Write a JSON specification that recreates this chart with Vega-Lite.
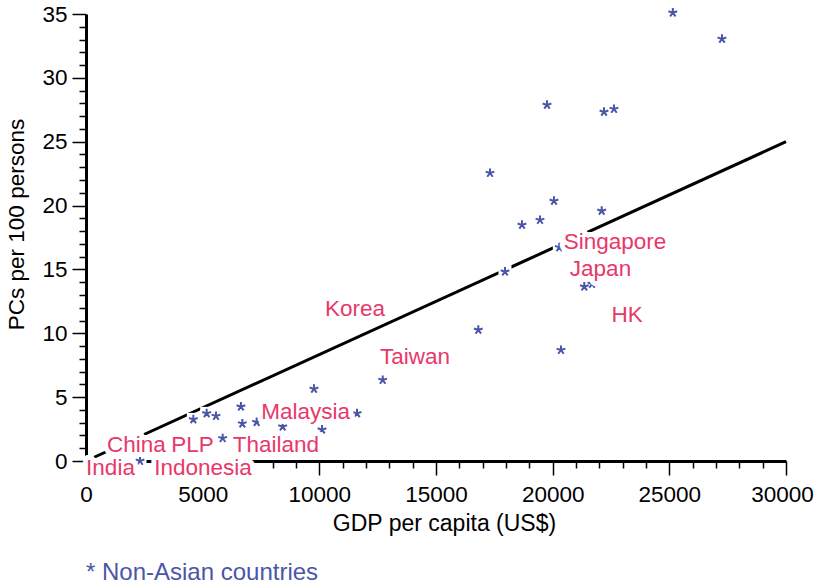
{
  "$schema": "https://vega.github.io/schema/vega-lite/v6.json",
  "width": 700,
  "height": 447,
  "autosize": "none",
  "padding": {"left": 86, "top": 14, "right": 30, "bottom": 123},
  "config": {
    "font": "Liberation Sans",
    "view": {"stroke": null},
    "axis": {"grid": false}
  },
  "title": {
    "text": "* Non-Asian countries",
    "orient": "bottom",
    "anchor": "start",
    "frame": "group",
    "color": "#4b55a8",
    "fontSize": 24,
    "fontWeight": "normal",
    "font": "Liberation Sans",
    "offset": 25
  },
  "datasets": {
    "fit": [
      {"gdp": 0, "pcs": 0},
      {"gdp": 30000, "pcs": 25}
    ],
    "nonAsian": [
      {"gdp": 25150, "pcs": 35.1},
      {"gdp": 27257, "pcs": 33.05},
      {"gdp": 19757, "pcs": 27.88},
      {"gdp": 22200, "pcs": 27.33},
      {"gdp": 22629, "pcs": 27.56},
      {"gdp": 17314, "pcs": 22.55},
      {"gdp": 20057, "pcs": 20.36},
      {"gdp": 18686, "pcs": 18.48},
      {"gdp": 19457, "pcs": 18.87},
      {"gdp": 22101, "pcs": 19.58},
      {"gdp": 20284, "pcs": 16.73},
      {"gdp": 17957, "pcs": 14.82},
      {"gdp": 21356, "pcs": 13.65},
      {"gdp": 21686, "pcs": 13.86},
      {"gdp": 16813, "pcs": 10.26},
      {"gdp": 20357, "pcs": 8.69},
      {"gdp": 12716, "pcs": 6.34},
      {"gdp": 9771, "pcs": 5.64},
      {"gdp": 11614, "pcs": 3.73},
      {"gdp": 6640, "pcs": 4.25},
      {"gdp": 6700, "pcs": 2.93},
      {"gdp": 7314, "pcs": 3.04},
      {"gdp": 8429, "pcs": 2.69},
      {"gdp": 10115, "pcs": 2.45},
      {"gdp": 4600, "pcs": 3.26},
      {"gdp": 5171, "pcs": 3.73},
      {"gdp": 5571, "pcs": 3.52},
      {"gdp": 5857, "pcs": 1.78},
      {"gdp": 2314, "pcs": 0.0}
    ],
    "asian": [
      {"country": "Singapore", "gdp": 22671, "pcs": 17.15},
      {"country": "Japan", "gdp": 22050, "pcs": 15.07},
      {"country": "HK", "gdp": 23186, "pcs": 11.43},
      {"country": "Korea", "gdp": 11529, "pcs": 11.94},
      {"country": "Taiwan", "gdp": 14100, "pcs": 8.16},
      {"country": "Malaysia", "gdp": 9414, "pcs": 3.85},
      {"country": "China", "gdp": 2156, "pcs": 1.25},
      {"country": "PLP", "gdp": 4564, "pcs": 1.25},
      {"country": "Thailand", "gdp": 8134, "pcs": 1.25},
      {"country": "India", "gdp": 1050, "pcs": -0.55},
      {"country": "Indonesia", "gdp": 5014, "pcs": -0.55}
    ]
  },
  "encoding": {
    "x": {
      "field": "gdp",
      "type": "quantitative",
      "scale": {"domain": [0, 30000], "nice": false, "zero": false},
      "axis": {
        "title": "GDP per capita (US$)",
        "tickCount": 30,
        "format": "d",
        "labelExpr": "datum.value % 5000 === 0 ? datum.label : ''",
        "labelOverlap": false,
        "labelFlush": false,
        "labelOffset": {"condition": {"test": "datum.value === 30000", "value": -4}, "value": 0},
        "tickSize": {"condition": {"test": "datum.value % 5000 === 0", "value": 14}, "value": 7},
        "tickWidth": 1.5,
        "tickColor": "black",
        "domainColor": "black",
        "domainWidth": 3,
        "labelFontSize": 22.5,
        "labelColor": "black",
        "labelPadding": 8,
        "titleFontSize": 23,
        "titleFontWeight": "normal",
        "titleColor": "black",
        "titlePadding": 7,
        "titleX": 358
      }
    },
    "y": {
      "field": "pcs",
      "type": "quantitative",
      "scale": {"domain": [0, 35], "nice": false, "zero": false},
      "axis": {
        "title": "PCs per 100 persons",
        "tickCount": 35,
        "labelExpr": "datum.value % 5 === 0 ? datum.label : ''",
        "labelOverlap": false,
        "labelFlush": false,
        "tickSize": {"condition": {"test": "datum.value % 5 === 0", "value": 14}, "value": 7},
        "tickWidth": 1.5,
        "tickColor": "black",
        "domainColor": "black",
        "domainWidth": 3,
        "labelFontSize": 22.5,
        "labelColor": "black",
        "labelPadding": 5,
        "titleFontSize": 22.5,
        "titleFontWeight": "normal",
        "titleColor": "black",
        "titlePadding": 13,
        "titleY": 210
      }
    }
  },
  "layer": [
    {
      "data": {"name": "fit"},
      "mark": {"type": "line", "color": "black", "strokeWidth": 3}
    },
    {
      "data": {"name": "nonAsian"},
      "mark": {"type": "point", "shape": "square", "filled": true, "color": "white", "size": 169, "opacity": 1}
    },
    {
      "data": {"name": "nonAsian"},
      "mark": {
        "type": "point",
        "shape": "M0,0L0,-1M0,0L0.951,-0.309M0,0L-0.951,-0.309M0,0L0.588,0.809M0,0L-0.588,0.809",
        "filled": false,
        "color": "#4b55a8",
        "strokeWidth": 2,
        "size": 85,
        "opacity": 1
      }
    },
    {
      "data": {"name": "asian"},
      "mark": {
        "type": "text",
        "fontSize": 22.5,
        "color": "white",
        "stroke": "white",
        "strokeWidth": 10,
        "strokeJoin": "round",
        "align": "center",
        "baseline": "middle"
      },
      "encoding": {"text": {"field": "country"}}
    },
    {
      "data": {"name": "asian"},
      "mark": {
        "type": "text",
        "fontSize": 22.5,
        "color": "#e8386a",
        "align": "center",
        "baseline": "middle"
      },
      "encoding": {"text": {"field": "country"}}
    }
  ]
}
